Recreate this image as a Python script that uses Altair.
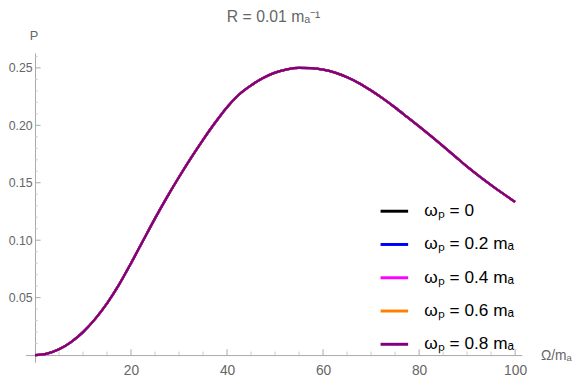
import altair as alt
import pandas as pd

# ---- data ----
omega = [0, 2.5, 5, 7.5, 10, 12.5, 15, 17.5, 20, 22.5, 25, 27.5, 30, 32.5, 35, 37.5,
         40, 42.5, 45, 47.5, 50, 52.5, 55, 57.5, 60, 62.5, 65, 67.5, 70, 72.5, 75,
         77.5, 80, 82.5, 85, 87.5, 90, 92.5, 95, 97.5, 100]
prob = [0.0, 0.0013, 0.005, 0.0113, 0.020, 0.0313, 0.045, 0.0613, 0.080, 0.0995,
        0.119, 0.1375, 0.1550, 0.1717, 0.1874, 0.2022, 0.2158, 0.2268, 0.2348, 0.2412,
        0.2459, 0.2487, 0.2499, 0.2497, 0.2484, 0.2458, 0.2418, 0.2367, 0.2303,
        0.2232, 0.2155, 0.2073, 0.1990, 0.1905, 0.1818, 0.1730, 0.1640, 0.1558,
        0.1480, 0.1405, 0.1333]
series = ["ωₚ = 0", "ωₚ = 0.2 mₐ", "ωₚ = 0.4 mₐ", "ωₚ = 0.6 mₐ", "ωₚ = 0.8 mₐ"]
colors = ["#000000", "#0000ff", "#ff00ff", "#ff8000", "#800080"]

x_major = [20, 40, 60, 80, 100]
x_minor = [5, 10, 15, 25, 30, 35, 45, 50, 55, 65, 70, 75, 85, 90, 95]
y_major = [0.05, 0.10, 0.15, 0.20, 0.25]
y_minor = [0.01, 0.02, 0.03, 0.04, 0.06, 0.07, 0.08, 0.09, 0.11, 0.12, 0.13, 0.14,
           0.16, 0.17, 0.18, 0.19, 0.21, 0.22, 0.23, 0.24, 0.26]

# ---- layout ----
XMIN, XMAX = -2.0, 101.4
YMIN, YMAX = -0.0063, 0.263
W, H = 504.3, 314.3
PAD_L, PAD_T = 17.7, 42.7
x_off = -(0 - YMIN) / (YMAX - YMIN) * H   # moves x axis up to P = 0
y_off = -(0 - XMIN) / (XMAX - XMIN) * W   # moves y axis right to Omega = 0
AXIS = "#a8a8a8"
MINOR = "#c8c8c8"
TXT = "#666666"
FONT = "Liberation Sans"

rows = []
for s in series:
    for o, p in zip(omega, prob):
        rows.append({"omega": o, "P": p, "series": s})
df = pd.DataFrame(rows)

xs = alt.Scale(domain=[XMIN, XMAX], nice=False, zero=False)
ys = alt.Scale(domain=[YMIN, YMAX], nice=False, zero=False)

x_axis = alt.Axis(
    values=x_major, format="d", offset=x_off, ticks=False, tickSize=0,
    labelPadding=9, labelFontSize=14, labelColor=TXT, labelFont=FONT,
    labelFlush=False, labelOverlap=False, grid=False,
    domainColor=AXIS, domainWidth=1,
    title="Ω/mₐ", titleAngle=0, titleX=W + 19, titleY=0.5,
    titleAlign="left", titleBaseline="middle", titleFontSize=14,
    titleFontWeight="normal", titleColor=TXT, titleFont=FONT)
y_axis = alt.Axis(
    values=y_major, format=".2f", offset=y_off, ticks=False, tickSize=0,
    labelPadding=3, labelFontSize=12.5, labelColor=TXT, labelFont=FONT,
    labelFlush=False, labelOverlap=False, grid=False,
    domainColor=AXIS, domainWidth=1,
    title="P", titleAngle=0, titleX=-1.5, titleY=-13.7,
    titleAlign="center", titleBaseline="alphabetic", titleFontSize=13,
    titleFontWeight="normal", titleColor=TXT, titleFont=FONT)

line = alt.Chart(df).mark_line(strokeWidth=2.3, interpolate="monotone").encode(
    x=alt.X("omega:Q", scale=xs, axis=x_axis),
    y=alt.Y("P:Q", scale=ys, axis=y_axis),
    color=alt.Color("series:N", sort=series,
                    scale=alt.Scale(domain=series, range=colors),
                    legend=alt.Legend(
                        orient="none", legendX=359.3, legendY=145.3, title=None,
                        symbolType="stroke", symbolSize=784, symbolStrokeWidth=3,
                        labelFontSize=17.5, labelColor="#000000", labelFont=FONT,
                        labelOffset=15, rowPadding=9.8, padding=0)),
)

xmaj = pd.DataFrame({"omega": x_major, "P": 0.0, "P2": 0.0051})
xmin_ = pd.DataFrame({"omega": x_minor, "P": 0.0, "P2": 0.003})
ymaj = pd.DataFrame({"P": y_major, "omega": 0.0, "omega2": 1.16})
ymin_ = pd.DataFrame({"P": y_minor, "omega": 0.0, "omega2": 0.55})


def xticks(d, c):
    return alt.Chart(d).mark_rule(color=c, strokeWidth=1).encode(
        x=alt.X("omega:Q", scale=xs, axis=x_axis),
        y=alt.Y("P:Q", scale=ys, axis=y_axis), y2="P2:Q")


def yticks(d, c):
    return alt.Chart(d).mark_rule(color=c, strokeWidth=1).encode(
        y=alt.Y("P:Q", scale=ys, axis=y_axis),
        x=alt.X("omega:Q", scale=xs, axis=x_axis), x2="omega2:Q")


chart = alt.layer(
    line, xticks(xmaj, AXIS), xticks(xmin_, MINOR), yticks(ymaj, AXIS), yticks(ymin_, MINOR)
).properties(
    width=W, height=H,
    title=alt.Title("R = 0.01 mₐ⁻¹", fontSize=16, color=TXT, fontWeight="normal",
                    font=FONT, anchor="middle", frame="group", offset=-8,
                    baseline="alphabetic"),
    autosize=alt.AutoSizeParams(type="none"),
    padding={"left": PAD_L, "top": PAD_T, "right": 52, "bottom": 14},
).configure(font=FONT).configure_view(strokeWidth=0)

chart.save("out.html", embed_options={"renderer": "svg", "actions": False})
